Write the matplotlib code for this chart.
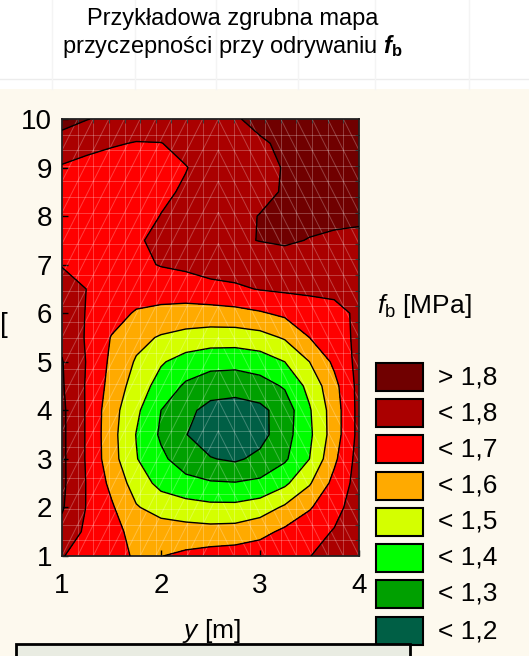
import numpy as np
import matplotlib.pyplot as plt
from matplotlib.patches import Rectangle

plt.rcParams['font.family'] = ['Liberation Sans', 'DejaVu Sans']
plt.rcParams['mathtext.fontset'] = 'custom'
plt.rcParams['mathtext.rm'] = 'Liberation Sans'
plt.rcParams['mathtext.it'] = 'Liberation Sans:italic'
plt.rcParams['mathtext.bf'] = 'Liberation Sans:bold'
plt.rcParams['mathtext.bfit'] = 'Liberation Sans:bold:italic'

# measurement grid (y [m] along horizontal axis, x [m] along vertical)
x_nodes = [1.0, 1.25, 1.5, 1.75, 2.0, 2.25, 2.5, 2.75, 3.0, 3.25, 3.5, 3.75, 4.0]
y_nodes = [1.0, 1.5, 2.0, 2.5, 3.0, 3.5, 4.0, 4.5, 5.0, 5.5,
           6.0, 6.5, 7.0, 7.5, 8.0, 8.5, 9.0, 9.5, 10.0]

# pull-off adhesion f_b [MPa], one row per y_nodes value
fb = [
    [1.705, 1.66, 1.63, 1.59, 1.598, 1.62, 1.64, 1.65, 1.66, 1.68, 1.698, 1.73, 1.76],
    [1.77, 1.68, 1.63, 1.57, 1.55, 1.54, 1.535, 1.54, 1.57, 1.62, 1.67, 1.705, 1.75],
    [1.81, 1.695, 1.613, 1.508, 1.46, 1.44, 1.425, 1.425, 1.45, 1.515, 1.59, 1.675, 1.74],
    [1.82, 1.695, 1.575, 1.455, 1.37, 1.33, 1.31, 1.305, 1.32, 1.38, 1.49, 1.63, 1.74],
    [1.82, 1.69, 1.54, 1.405, 1.32, 1.25, 1.205, 1.185, 1.225, 1.285, 1.40, 1.58, 1.74],
    [1.82, 1.69, 1.535, 1.397, 1.285, 1.203, 1.15, 1.135, 1.165, 1.26, 1.38, 1.55, 1.73],
    [1.82, 1.69, 1.54, 1.42, 1.30, 1.225, 1.17, 1.155, 1.175, 1.245, 1.39, 1.55, 1.73],
    [1.81, 1.69, 1.565, 1.455, 1.36, 1.285, 1.245, 1.24, 1.26, 1.31, 1.43, 1.57, 1.73],
    [1.805, 1.695, 1.58, 1.49, 1.41, 1.36, 1.335, 1.33, 1.35, 1.40, 1.50, 1.62, 1.73],
    [1.78, 1.69, 1.595, 1.53, 1.49, 1.465, 1.45, 1.45, 1.465, 1.51, 1.60, 1.66, 1.72],
    [1.76, 1.695, 1.64, 1.59, 1.575, 1.565, 1.565, 1.57, 1.59, 1.62, 1.65, 1.675, 1.715],
    [1.74, 1.699, 1.67, 1.65, 1.645, 1.65, 1.665, 1.685, 1.705, 1.715, 1.72, 1.72, 1.73],
    [1.695, 1.675, 1.67, 1.68, 1.705, 1.72, 1.75, 1.745, 1.755, 1.765, 1.765, 1.765, 1.77],
    [1.66, 1.66, 1.67, 1.69, 1.72, 1.745, 1.77, 1.79, 1.802, 1.81, 1.797, 1.785, 1.78],
    [1.65, 1.645, 1.65, 1.67, 1.702, 1.735, 1.76, 1.785, 1.802, 1.815, 1.82, 1.82, 1.815],
    [1.65, 1.645, 1.65, 1.665, 1.685, 1.71, 1.74, 1.765, 1.785, 1.805, 1.82, 1.83, 1.83],
    [1.69, 1.665, 1.655, 1.66, 1.675, 1.697, 1.73, 1.76, 1.785, 1.803, 1.82, 1.835, 1.84],
    [1.765, 1.735, 1.71, 1.695, 1.698, 1.725, 1.75, 1.775, 1.793, 1.81, 1.825, 1.84, 1.845],
    [1.83, 1.803, 1.78, 1.765, 1.76, 1.765, 1.775, 1.795, 1.815, 1.83, 1.84, 1.85, 1.855],
]

bounds = [1.0, 1.2, 1.3, 1.4, 1.5, 1.6, 1.7, 1.8, 2.0]
colors = ['#005f45', '#00a000', '#00ff00', '#d4ff00',
          '#ffaa00', '#ff0000', '#aa0000', '#700000']
legend_labels = ['> 1,8', '< 1,8', '< 1,7', '< 1,6', '< 1,5', '< 1,4', '< 1,3', '< 1,2']

W, H = 529, 656
fig = plt.figure(figsize=(W / 100, H / 100), dpi=100)
fig.patch.set_facecolor('#fdf9ee')


def fx(px):
    return px / W


def fy(py):
    return 1 - py / H


# white title band with faint slide grid
fig.add_artist(Rectangle((0, fy(89)), 1, 89 / H, transform=fig.transFigure,
                         facecolor='white', edgecolor='none', zorder=0))
fig.add_artist(plt.Line2D([0, 1], [fy(79), fy(79)], transform=fig.transFigure,
                          color='#ececec', lw=1, zorder=0))
for vx in [52, 135, 216, 298, 375, 469]:
    fig.add_artist(plt.Line2D([fx(vx), fx(vx)], [fy(0), fy(89)], transform=fig.transFigure,
                              color='#f4f4f4', lw=1, zorder=0))

fig.text(fx(233), fy(19), 'Przykładowa zgrubna mapa', ha='center', va='center', fontsize=17)
fig.text(fx(233), fy(47), r'przyczepności przy odrywaniu $\mathbfit{f}_{\mathbf{b}}$',
         ha='center', va='center', fontsize=17)

# contour map
ax = fig.add_axes([fx(62), fy(556), fx(297), 437 / H])
X, Y = np.meshgrid(x_nodes, y_nodes)
Z = np.array(fb)
ax.contourf(X, Y, Z, levels=bounds, colors=colors, zorder=1)
ax.contour(X, Y, Z, levels=bounds[1:-1], colors='black', linewidths=1.0, zorder=4)

# faint triangulation mesh
mesh_x = np.linspace(1, 4, 20)
mesh_y = np.linspace(1, 10, 29)
mk = dict(color='white', alpha=0.25, lw=0.7, zorder=2)
for xv in mesh_x[1:-1]:
    ax.axvline(xv, **mk)
for yv in mesh_y[1:-1]:
    ax.axhline(yv, **mk)
dx = mesh_x[1] - mesh_x[0]
dy = mesh_y[1] - mesh_y[0]
slope = 2 * dy / dx
xm = mesh_x[10]
for k in range(-40, 40):
    c = 1 + k * 2 * dy
    ax.plot([1, xm], [c, c + slope * (xm - 1)], **mk)
    ax.plot([xm, 4], [c, c - slope * (4 - xm)], **mk)

ax.set_xlim(1, 4)
ax.set_ylim(1, 10)
ax.set_xticks([1, 2, 3, 4])
ax.set_yticks(range(1, 11))
ax.set_xticks(mesh_x, minor=True)
ax.set_yticks(mesh_y, minor=True)
ax.tick_params(which='major', direction='in', length=4, width=1,
               labelsize=20, top=False, right=False)
ax.tick_params(axis='x', which='major', pad=12)
ax.tick_params(axis='y', which='major', pad=7)
ax.tick_params(which='minor', direction='in', length=3, width=0.8,
               bottom=False, left=False, top=True, right=True)
for s in ax.spines.values():
    s.set_linewidth(1.3)
    s.set_color('#222222')

fig.text(fx(211), fy(638), r'$\mathit{y}$ [m]', ha='center', va='baseline', fontsize=19)
fig.text(fx(0), fy(325), '[', ha='left', va='center', fontsize=20)

# legend
fig.text(fx(377), fy(306), r'$\mathit{f}_{\mathrm{b}}$ [MPa]', ha='left', va='center', fontsize=19)
box_tops = [363, 399, 435, 472, 508, 544, 580, 617]
for top, col, lab in zip(box_tops, colors[::-1], legend_labels):
    fig.add_artist(Rectangle((fx(376), fy(top + 28)), fx(47), 28 / H,
                             transform=fig.transFigure, facecolor=col,
                             edgecolor='black', lw=1.5, zorder=3))
    fig.text(fx(438), fy(top + 14), lab, ha='left', va='center', fontsize=19)

# bottom text frame (cut off)
fig.add_artist(Rectangle((fx(16), fy(670)), fx(394), 26 / H, transform=fig.transFigure,
                         facecolor='#e9ece2', edgecolor='black', lw=2, zorder=5))

fig.savefig('out.png', dpi=100, facecolor=fig.get_facecolor())
